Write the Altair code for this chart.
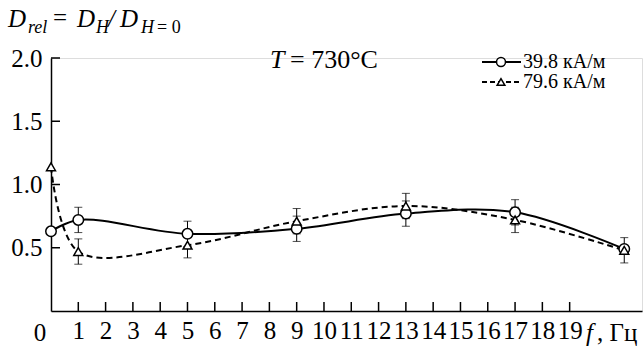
import altair as alt
import pandas as pd

# ---- data ----
freq = [0, 1, 5, 9, 13, 17, 21]
d_398 = [0.63, 0.72, 0.61, 0.65, 0.77, 0.78, 0.49]
d_796 = [1.14, 0.47, 0.52, 0.71, 0.83, 0.72, 0.48]
err_398 = [0.0, 0.1, 0.1, 0.1, 0.1, 0.1, 0.0]
err_796 = [0.0, 0.1, 0.1, 0.1, 0.1, 0.1, 0.1]
series_names = ["39.8 кА/м", "79.6 кА/м"]
x_ticks = list(range(1, 20))
y_ticks = [0.5, 1.0, 1.5, 2.0]

W, H = 591, 253
LEFT, TOP = 51, 58
FONT = "Liberation Serif"

rows = []
for name, vals, errs in [(series_names[0], d_398, err_398), (series_names[1], d_796, err_796)]:
    for f, v, e in zip(freq, vals, errs):
        rows.append({"f": f, "v": v, "lo": v - e, "hi": v + e, "s": name, "e": e})
df = pd.DataFrame(rows)
df1 = df[df.s == series_names[0]]
df2 = df[df.s == series_names[1]]
dferr = df[df.e > 0]

xs = alt.Scale(domain=[0, 21.65], nice=False, zero=False)
ys = alt.Scale(domain=[0, 2.0], nice=False)
XA = alt.Axis(values=x_ticks, title=None, labelOverlap=False, labelFont=FONT, labelFontSize=25,
              labelPadding=7, tickSize=0, grid=False, labelBound=False, labelFlush=False)
YA = alt.Axis(values=y_ticks, title=None, format=".1f", labelOverlap=False, labelFont=FONT, labelFontSize=25,
              labelPadding=9, tickSize=0, grid=False, labelBaseline="middle", labelFlush=False)


def xq(field):
    return alt.X(field, scale=xs, axis=XA)


def yq(field):
    return alt.Y(field, scale=ys, axis=YA)


line1 = alt.Chart(df1).mark_line(color="black", strokeWidth=2, interpolate="catmull-rom").encode(x=xq("f:Q"), y=yq("v:Q"))
line2 = alt.Chart(df2).mark_line(color="black", strokeWidth=2, strokeDash=[6, 4], interpolate="catmull-rom").encode(x=xq("f:Q"), y=yq("v:Q"))

rules = alt.Chart(dferr).mark_rule(color="black", strokeWidth=1).encode(x=xq("f:Q"), y=yq("lo:Q"), y2="hi:Q")
cap_lo = alt.Chart(dferr).mark_tick(color="black", orient="horizontal", size=8, thickness=1).encode(x=xq("f:Q"), y=yq("lo:Q"))
cap_hi = alt.Chart(dferr).mark_tick(color="black", orient="horizontal", size=8, thickness=1).encode(x=xq("f:Q"), y=yq("hi:Q"))

pts1 = alt.Chart(df1).mark_point(shape="circle", filled=False, fill="white", fillOpacity=1, color="black",
                                 strokeWidth=1.5, size=110, opacity=1).encode(x=xq("f:Q"), y=yq("v:Q"))
pts2 = alt.Chart(df2).mark_point(shape="triangle-up", filled=False, fill="white", fillOpacity=1, color="black",
                                 strokeWidth=1.5, size=80, opacity=1).encode(x=xq("f:Q"), y=yq("v:Q"))

# inward ticks
xt = alt.Chart(pd.DataFrame({"t": x_ticks})).mark_rule(color="black", strokeWidth=1.5).encode(
    x=xq("t:Q"), y=alt.value(H), y2=alt.value(H - 9))
yt = alt.Chart(pd.DataFrame({"t": y_ticks})).mark_rule(color="black", strokeWidth=1.5).encode(
    y=yq("t:Q"), x=alt.value(0), x2=alt.value(9))


def txt(text, ax, ay, size, italic=False, align="left", baseline="alphabetic"):
    return alt.Chart(pd.DataFrame({"t": [text]})).mark_text(
        font=FONT, fontSize=size, fontStyle="italic" if italic else "normal", color="black",
        align=align, baseline=baseline).encode(
        x=alt.value(ax - LEFT), y=alt.value(ay - TOP), text="t:N")


texts = [
    txt("D", 8, 27, 25, True),
    txt("rel", 28, 33, 18, True),
    txt("=", 53, 26, 25),
    txt("D", 77, 27, 25, True),
    txt("H", 96, 33, 18, True),
    txt("/", 108, 27, 25, True),
    txt("D", 120, 27, 25, True),
    txt("H", 141, 33, 18, True),
    txt("= 0", 157, 33, 18),
    txt("T", 270, 68, 26, True),
    txt("= 730°C", 290, 68, 26),
    txt("0", 40, 341, 25, align="center"),
    txt("f", 586, 341, 25, True),
    txt(", Гц", 597, 341, 25),
]

# legend
leg = []
for i, (name, dash, shape, sz) in enumerate([(series_names[0], [1, 0], "circle", 80),
                                               (series_names[1], [5, 3], "triangle-up", 60)]):
    ly = 62 + i * 20
    d = pd.DataFrame({"t": [name]})
    leg.append(alt.Chart(d).mark_rule(color="black", strokeWidth=2, strokeDash=dash).encode(
        x=alt.value(482 - LEFT), x2=alt.value(521 - LEFT), y=alt.value(ly - TOP)))
    leg.append(alt.Chart(d).mark_point(shape=shape, filled=False, fill="white", fillOpacity=1, color="black",
                                       strokeWidth=1.5, size=sz, opacity=1).encode(
        x=alt.value(501 - LEFT), y=alt.value(ly - TOP)))
    leg.append(txt(name, 523, ly + 6, 20))

chart = alt.layer(line1, line2, rules, cap_lo, cap_hi, pts1, pts2, xt, yt, *texts, *leg).properties(
    width=W, height=H, autosize=alt.AutoSizeParams(type="none"),
    padding={"left": LEFT, "top": TOP, "right": 644 - LEFT - W, "bottom": 346 - TOP - H}
).configure_view(stroke=None).configure(background="white", font=FONT).configure_axis(
    grid=False, tickSize=0, labelFont=FONT, labelFontSize=25, labelColor="black",
    domainColor="black", domainWidth=1.5, labelOverlap=False, labelFlush=False
)

chart.save("out.html", embed_options={"renderer": "svg", "actions": False})
